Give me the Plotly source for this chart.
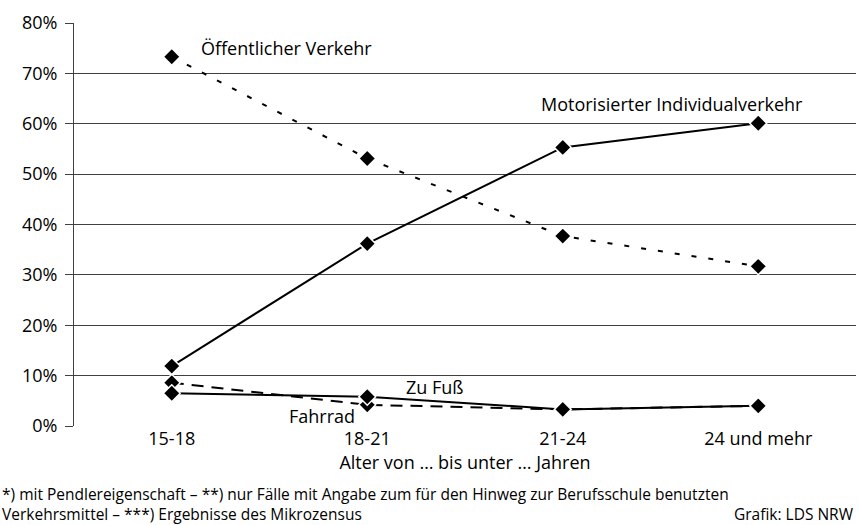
import plotly.graph_objects as go

# ── data ──────────────────────────────────────────────────────────────────────
ages = ["15-18", "18-21", "21-24", "24 und mehr"]

oev     = [73.3, 53.1, 37.7, 31.7]   # Öffentlicher Verkehr
miv     = [11.9, 36.2, 55.3, 60.1]   # Motorisierter Individualverkehr
zu_fuss = [6.5, 5.8, 3.3, 4.0]       # Zu Fuß
fahrrad = [8.6, 4.2, 3.3, 4.0]       # Fahrrad

y_ticks = [0, 10, 20, 30, 40, 50, 60, 70, 80]

FONT = "Open Sans"

fig = go.Figure()

marker = dict(symbol="diamond", size=13, color="black",
              line=dict(color="white", width=1.5))

fig.add_trace(go.Scatter(x=ages, y=oev, mode="lines+markers", name="Öffentlicher Verkehr",
                         line=dict(color="black", width=2, dash="5px,12px"), marker=marker))
fig.add_trace(go.Scatter(x=ages, y=fahrrad, mode="lines+markers", name="Fahrrad",
                         line=dict(color="black", width=2, dash="12px,8px"), marker=marker))
fig.add_trace(go.Scatter(x=ages, y=zu_fuss, mode="lines+markers", name="Zu Fuß",
                         line=dict(color="black", width=2), marker=marker))
fig.add_trace(go.Scatter(x=ages, y=miv, mode="lines+markers", name="Motorisierter Individualverkehr",
                         line=dict(color="black", width=2), marker=marker))

# ── labels (x in category units) ──────────────────────────────────────────────
labels = [
    ("Öffentlicher Verkehr", 0.14, 75.0),
    ("Motorisierter Individualverkehr", 1.88, 63.9),
    ("Zu Fuß", 1.19, 7.7),
    ("Fahrrad", 0.59, 2.0),
]
for text, x, y in labels:
    fig.add_annotation(x=x, y=y, xref="x", yref="y", text=text, showarrow=False,
                       xanchor="left", yanchor="middle",
                       font=dict(family=FONT, size=18, color="black"))

# footnotes
fig.add_annotation(x=-0.095, y=-0.137, xref="paper", yref="paper", xanchor="left", yanchor="top",
                   align="left", showarrow=False,
                   text="*) mit Pendlereigenschaft – **) nur Fälle mit Angabe zum für den Hinweg zur Berufsschule benutzten<br>Verkehrsmittel – ***) Ergebnisse des Mikrozensus",
                   font=dict(family=FONT, size=15.5, color="black"))
fig.add_annotation(x=1.0, y=-0.186, xref="paper", yref="paper", xanchor="right", yanchor="top",
                   showarrow=False, text="Grafik: LDS NRW",
                   font=dict(family=FONT, size=15.5, color="black"))

fig.update_layout(
    width=859, height=525,
    margin=dict(l=74, r=3, t=23, b=99),
    paper_bgcolor="white", plot_bgcolor="white",
    showlegend=False,
    font=dict(family=FONT, size=18, color="black"),
    xaxis=dict(type="category", range=[-0.5, 3.5], showgrid=False, zeroline=False,
               showline=False, ticks="",
               title=dict(text="Alter von … bis unter … Jahren", standoff=2,
                          font=dict(family=FONT, size=18))),
    yaxis=dict(range=[0, 80], tickvals=y_ticks, ticktext=[f"{v}%" for v in y_ticks],
               showgrid=True, gridcolor="#404040", gridwidth=1, zeroline=False,
               showline=True, linecolor="#404040", linewidth=1,
               ticks="outside", ticklen=8, tickcolor="#404040", ticklabelstandoff=4),
)

fig.write_html("out.html", config={"displayModeBar": False},
               post_script="document.body.style.margin='0';")
